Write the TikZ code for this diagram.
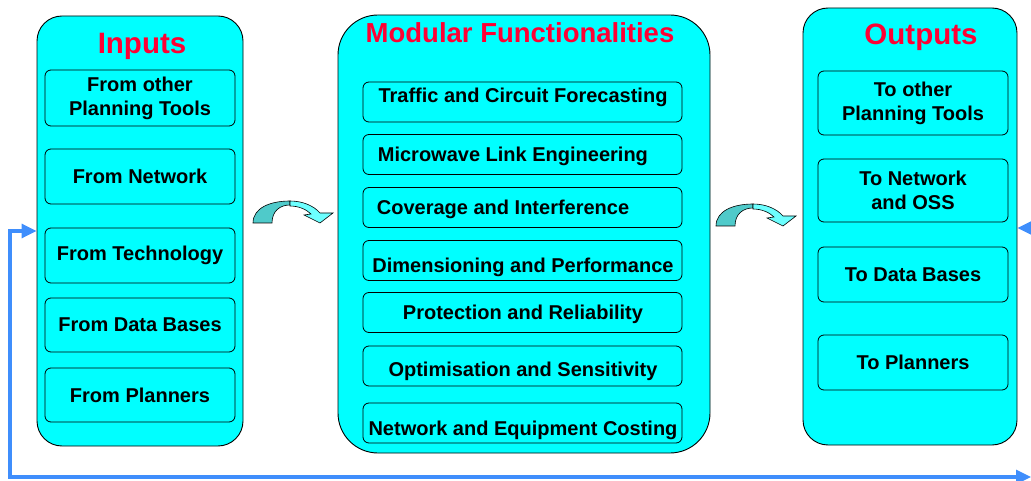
\documentclass[tikz,border=0pt]{standalone}
\usepackage{fontspec}
\setmainfont{Liberation Sans}
\usetikzlibrary{arrows.meta}
\definecolor{panelcyan}{HTML}{00FFFF}
\definecolor{titlered}{HTML}{FF0033}
\definecolor{feedblue}{HTML}{3F8EFC}
\definecolor{benddark}{HTML}{4FCACA}
\definecolor{bendlight}{HTML}{6CFFFF}
\tikzset{>={Triangle[length=15pt,width=14pt]}}

\begin{document}
\begin{tikzpicture}[x=1pt,y=-1pt,
    panel/.style={draw, line width=0.9pt, fill=panelcyan, rounded corners=#1},
    item/.style={draw, line width=0.8pt, rounded corners=6pt, align=center, inner sep=0pt,
        font=\fontsize{20}{24}\selectfont\bfseries},
    itemtext/.style={inner sep=0pt, font=\fontsize{20}{24}\selectfont\bfseries},
    title/.style={text=titlered, inner sep=0pt, font=\fontsize{29.5}{32}\selectfont\bfseries},
    fbline/.style={draw=feedblue, line width=3.2pt}]
    \useasboundingbox (0,0) rectangle (1031,481);
    % the three panels
    \node[panel=25pt, minimum width=206pt, minimum height=430pt] (inbox) at (140,231) {};
    \node[panel=40pt, minimum width=372pt, minimum height=438pt] (modbox) at (524,234) {};
    \node[panel=25pt, minimum width=214pt, minimum height=437pt] (outbox) at (910,226.5) {};
    \node[title] (intitle) at (142,46) {Inputs};
    \node[title, font=\fontsize{27.5}{30}\selectfont\bfseries] (modtitle) at (520,33) {Modular Functionalities};
    \node[title] (outtitle) at (921,37) {Outputs};
    % inputs
    \foreach \y/\h/\t [count=\i] in {98/56/{From other\\Planning Tools}, 176.5/55/{From Network},
        255.5/55/{From Technology}, 325/54/{From Data Bases}, 395/54/{From Planners}}
    \node[item, minimum width=190pt, minimum height=\h pt] (in\i) at (140,\y) {\t};
    % modules
    \foreach \y/\tx/\b/\an/\t [count=\i] in {102/523/102.2/base/{Traffic and Circuit Forecasting},
        154.5/377.7/161.7/base west/{Microwave Link Engineering},
        207.5/376.7/214.7/base west/{Coverage and Interference},
        260.5/523/272.1/base/{Dimensioning and Performance},
        312.5/523/319.2/base/{Protection and Reliability},
        366/523/376.5/base/{Optimisation and Sensitivity},
        423/523/435.5/base/{Network and Equipment Costing}} {
        \node[item, minimum width=319pt, minimum height=40pt] (mod\i) at (522.5,\y) {};
        \node[itemtext, anchor=\an] (mod\i text) at (\tx,\b) {\t};
    }
    % outputs
    \foreach \y/\h/\t [count=\i] in {103/64/{To other\\Planning Tools}, 190.5/63/{To Network\\and OSS},
        274.5/55/{To Data Bases}, 362.5/55/{To Planners}}
    \node[item, minimum width=190pt, minimum height=\h pt] (out\i) at (913,\y) {\t};
    % bent arrows between the panels
    \foreach \ax/\ay in {253/223, 716/226} {
        \begin{scope}[shift={(\ax,\ay)}]
            \draw[line width=0.6pt, fill=benddark] (0,0) .. controls (0,-15) and (17,-22) .. (37,-22)
                -- (37,-18) .. controls (27,-18) and (19,-12) .. (19,0) -- cycle;
            \draw[line width=0.6pt, fill=bendlight] (37,-22) .. controls (50,-22) and (61,-17) .. (67,-10)
                -- (80,-10) -- (67,0) -- (51,-8) -- (58,-9) .. controls (53,-14) and (45,-17) .. (37,-17) -- cycle;
        \end{scope}
    }
    % feedback loop
    \coordinate (fbR) at (1031,477);
    \coordinate (fbL) at (10,477);
    \coordinate (fbO) at (1035,228);
    \draw[fbline, <->] (fbR) -- (fbL) |- (inbox.west);
    \draw[fbline, ->] (fbO) -- (outbox.east |- fbO);
\end{tikzpicture}
\end{document}
